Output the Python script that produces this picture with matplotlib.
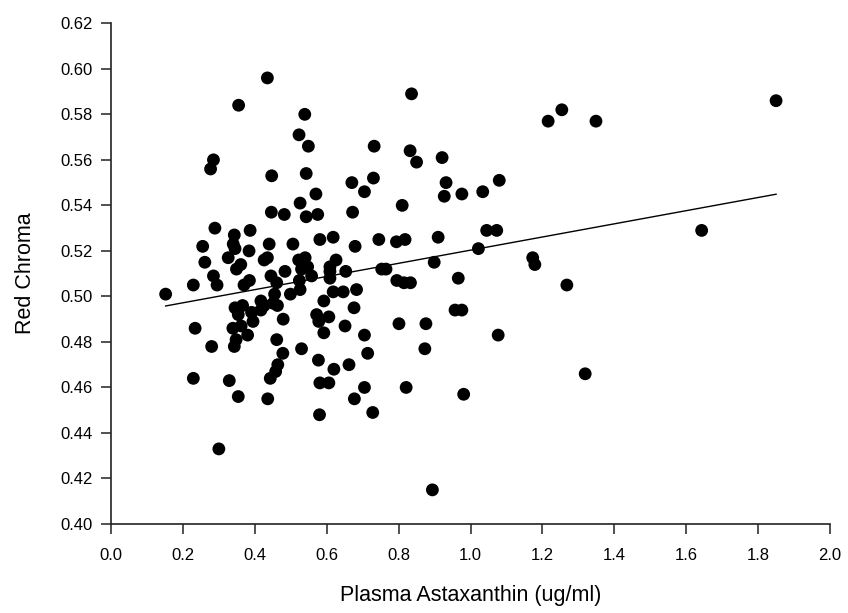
import numpy as np
import matplotlib
matplotlib.use('Agg')
import matplotlib.pyplot as plt

plt.rcParams['font.family'] = ['Liberation Sans', 'DejaVu Sans']

# plasma astaxanthin (ug/ml) vs red chroma
astaxanthin = [
    0.435, 0.355, 0.285, 0.277, 0.539, 0.523, 0.549, 0.447, 0.543, 0.570,
    0.526, 0.446, 0.482, 0.543, 0.575, 0.670, 0.672, 0.289, 0.343, 0.387,
    0.255, 0.340, 0.345, 0.384, 0.440, 0.506, 0.581, 0.618, 0.836, 1.216,
    1.254, 0.732, 0.832, 0.850, 0.921, 0.730, 0.705, 0.932, 0.927, 0.976,
    1.034, 1.080, 0.810, 0.679, 0.745, 0.794, 0.818, 0.910, 1.045, 1.073,
    1.349, 1.850, 1.643, 1.022,
    0.261, 0.326, 0.361, 0.349, 0.426, 0.435, 0.484, 0.522, 0.540, 0.530,
    0.547, 0.626, 0.609, 0.653, 0.285, 0.295, 0.229, 0.385, 0.370, 0.445,
    0.461, 0.524, 0.526, 0.499, 0.558, 0.609, 0.609, 0.618, 0.646, 0.683,
    0.455, 0.753, 0.765, 0.899, 0.795, 0.815, 0.833, 0.966, 1.173, 1.179,
    1.268, 0.152,
    0.345, 0.366, 0.354, 0.391, 0.395, 0.362, 0.339, 0.417, 0.426, 0.417,
    0.451, 0.463, 0.479, 0.592, 0.572, 0.578, 0.606, 0.592, 0.651, 0.676,
    0.801, 0.876, 0.957, 0.976, 1.077, 0.234, 0.380, 0.348, 0.343, 0.280,
    0.461, 0.478, 0.464, 0.458, 0.443, 0.530, 0.577, 0.620, 0.662, 0.581,
    0.606, 0.705, 0.714, 0.873, 0.705, 0.677, 0.821, 0.981, 0.728, 0.580,
    0.229, 0.329, 0.354, 0.436, 0.300, 0.894, 1.319,
]
red_chroma = [
    0.596, 0.584, 0.560, 0.556, 0.580, 0.571, 0.566, 0.553, 0.554, 0.545,
    0.541, 0.537, 0.536, 0.535, 0.536, 0.550, 0.537, 0.530, 0.527, 0.529,
    0.522, 0.523, 0.521, 0.520, 0.523, 0.523, 0.525, 0.526, 0.589, 0.577,
    0.582, 0.566, 0.564, 0.559, 0.561, 0.552, 0.546, 0.550, 0.544, 0.545,
    0.546, 0.551, 0.540, 0.522, 0.525, 0.524, 0.525, 0.526, 0.529, 0.529,
    0.577, 0.586, 0.529, 0.521,
    0.515, 0.517, 0.514, 0.512, 0.516, 0.517, 0.511, 0.516, 0.517, 0.512,
    0.513, 0.516, 0.513, 0.511, 0.509, 0.505, 0.505, 0.507, 0.505, 0.509,
    0.506, 0.507, 0.503, 0.501, 0.509, 0.511, 0.508, 0.502, 0.502, 0.503,
    0.501, 0.512, 0.512, 0.515, 0.507, 0.506, 0.506, 0.508, 0.517, 0.514,
    0.505, 0.501,
    0.495, 0.496, 0.492, 0.493, 0.489, 0.487, 0.486, 0.498, 0.496, 0.494,
    0.497, 0.496, 0.490, 0.498, 0.492, 0.489, 0.491, 0.484, 0.487, 0.495,
    0.488, 0.488, 0.494, 0.494, 0.483, 0.486, 0.483, 0.481, 0.478, 0.478,
    0.481, 0.475, 0.470, 0.467, 0.464, 0.477, 0.472, 0.468, 0.470, 0.462,
    0.462, 0.483, 0.475, 0.477, 0.460, 0.455, 0.460, 0.457, 0.449, 0.448,
    0.464, 0.463, 0.456, 0.455, 0.433, 0.415, 0.466,
]

# regression line as drawn in the figure
fit_x = [0.152, 1.850]
fit_y = [0.4958, 0.5449]

fig = plt.figure(figsize=(8.48, 6.13), dpi=100)
ax = fig.add_axes([111 / 848, 1 - 524 / 613, (830 - 111) / 848, (524 - 23.3) / 613])

ax.scatter(astaxanthin, red_chroma, s=85, color='black', edgecolors='none', zorder=2)
ax.plot(fit_x, fit_y, color='black', lw=1.0, zorder=3)

ax.set_xlim(0, 2.0)
ax.set_ylim(0.40, 0.62)
ax.set_xticks(np.arange(0, 2.01, 0.2))
ax.set_yticks(np.arange(0.40, 0.621, 0.02))
ax.xaxis.set_major_formatter(matplotlib.ticker.FormatStrFormatter('%.1f'))
ax.yaxis.set_major_formatter(matplotlib.ticker.FormatStrFormatter('%.2f'))

for side in ['top', 'right']:
    ax.spines[side].set_visible(False)
for side in ['left', 'bottom']:
    ax.spines[side].set_linewidth(1.2)
    ax.spines[side].set_color('#222222')

ax.tick_params(axis='both', direction='out', length=7, width=1.1, color='#222222',
               labelsize=12)
ax.tick_params(axis='x', pad=10)
ax.tick_params(axis='y', pad=6)

ax.set_xlabel('Plasma Astaxanthin (ug/ml)', fontsize=15.5, labelpad=16)
ax.set_ylabel('Red Chroma', fontsize=15.5, labelpad=18)

fig.savefig('out.png', dpi=100)
